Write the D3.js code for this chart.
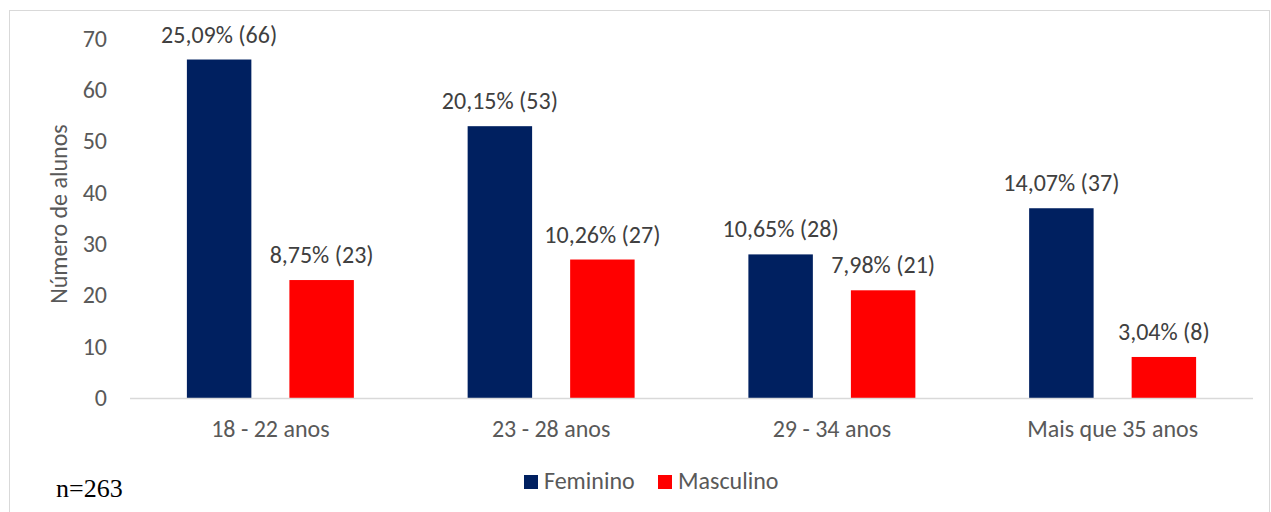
<!DOCTYPE html>
<html>
<head>
<meta charset="utf-8">
<script src="https://cdn.jsdelivr.net/npm/d3@7"></script>
<style>
  body { margin: 0; background: #fff; }
  svg { display: block; }
  text { font-family: Carlito, "Open Sans", sans-serif; fill: #595959; }
</style>
</head>
<body>
<script>
const categories = ['18 - 22 anos', '23 - 28 anos', '29 - 34 anos', 'Mais que 35 anos']
const series = ['Feminino', 'Masculino']
const feminino = [66, 53, 28, 37]
const masculino = [23, 27, 21, 8]
const femininoPct = ['25,09%', '20,15%', '10,65%', '14,07%']
const masculinoPct = ['8,75%', '10,26%', '7,98%', '3,04%']
const yTicks = [0, 10, 20, 30, 40, 50, 60, 70]
const colors = ['#002060', '#ff0000']

const width = 1271, height = 512
const plotLeft = 130, plotRight = 1253, plotTop = 39, plotBottom = 398

const svg = d3.select('body').append('svg')
    .attr('width', width)
    .attr('height', height)

// chart border
svg.append('rect')
    .attr('x', 9.5).attr('y', 10.5)
    .attr('width', 1260).attr('height', 520)
    .attr('fill', 'none')
    .attr('stroke', '#d9d9d9')

const y = d3.scaleLinear().domain([0, 70]).range([plotBottom, plotTop])
const x0 = d3.scaleBand().domain(categories).range([plotLeft, plotRight])
const x1 = d3.scaleBand().domain(series).range([0, x0.bandwidth()])
    .paddingInner(0.371).paddingOuter(0.555)

// y tick labels
svg.append('g')
    .selectAll('text')
    .data(yTicks)
    .enter().append('text')
    .attr('x', 107)
    .attr('y', d => y(d))
    .attr('dy', '0.33em')
    .attr('text-anchor', 'end')
    .style('font-size', '24px')
    .text(d => d)

// y title
svg.append('text')
    .attr('transform', 'translate(67,214) rotate(-90)')
    .attr('text-anchor', 'middle')
    .style('font-size', '24px')
    .text('Número de alunos')

const rows = categories.map((c, i) => ({
    cat: c,
    vals: [
        { s: series[0], v: feminino[i], p: femininoPct[i] },
        { s: series[1], v: masculino[i], p: masculinoPct[i] }
    ]
}))

const groups = svg.append('g')
    .selectAll('g')
    .data(rows)
    .enter().append('g')
    .attr('transform', d => 'translate(' + x0(d.cat) + ',0)')

groups.selectAll('rect')
    .data(d => d.vals)
    .enter().append('rect')
    .attr('x', d => x1(d.s))
    .attr('y', d => y(d.v))
    .attr('width', x1.bandwidth())
    .attr('height', d => y(0) - y(d.v))
    .attr('fill', (d, i) => colors[i])

groups.selectAll('text.lbl')
    .data(d => d.vals)
    .enter().append('text')
    .attr('class', 'lbl')
    .attr('x', d => x1(d.s) + x1.bandwidth() / 2)
    .attr('y', d => y(d.v) - 17)
    .attr('text-anchor', 'middle')
    .style('font-size', '24px')
    .style('fill', '#404040')
    .text(d => d.p + ' (' + d.v + ')')

// x axis line
svg.append('line')
    .attr('x1', plotLeft).attr('x2', plotRight)
    .attr('y1', plotBottom + 0.5).attr('y2', plotBottom + 0.5)
    .attr('stroke', '#d9d9d9')
    .attr('stroke-width', 1.5)

// category labels
svg.append('g')
    .selectAll('text')
    .data(categories)
    .enter().append('text')
    .attr('x', d => x0(d) + x0.bandwidth() / 2)
    .attr('y', 437)
    .attr('text-anchor', 'middle')
    .style('font-size', '24px')
    .text(d => d)

// legend
const legendX = [524, 658]
const legend = svg.append('g')
    .selectAll('g')
    .data(series)
    .enter().append('g')
    .attr('transform', (d, i) => 'translate(' + legendX[i] + ',475)')
legend.append('rect')
    .attr('width', 14).attr('height', 14)
    .attr('fill', (d, i) => colors[i])
legend.append('text')
    .attr('x', 20).attr('y', 14)
    .style('font-size', '24px')
    .text(d => d)

// sample size
svg.append('text')
    .attr('x', 56).attr('y', 497)
    .style('font-family', '"Liberation Serif", "Times New Roman", serif')
    .style('font-size', '26px')
    .style('fill', '#000')
    .text('n=263')
</script>
</body>
</html>
